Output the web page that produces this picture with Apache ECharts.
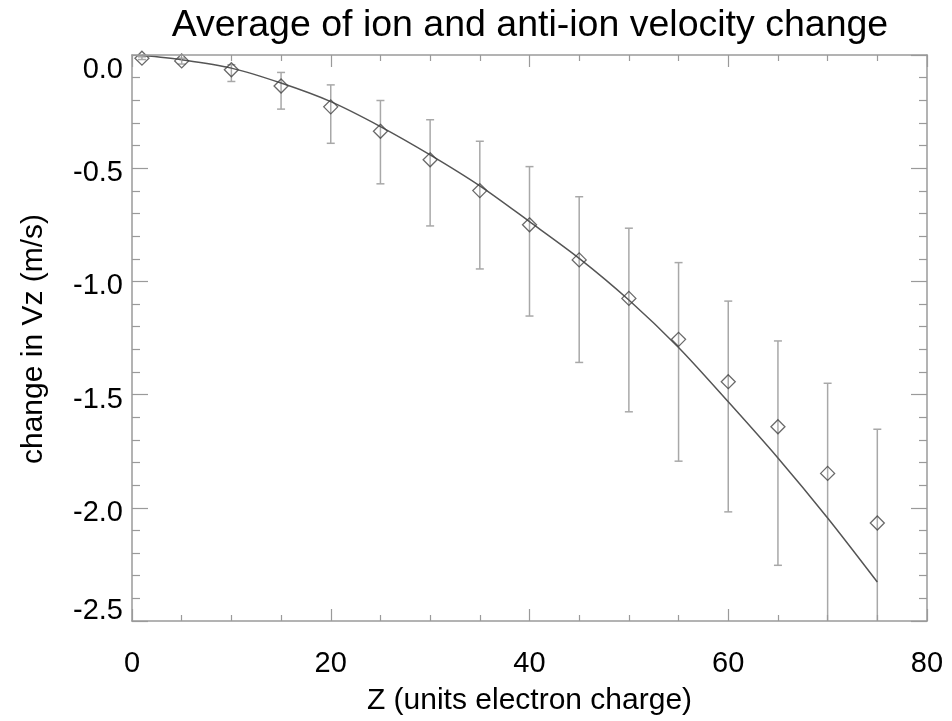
<!DOCTYPE html>
<html>
<head>
<meta charset="utf-8">
<script src="https://cdn.jsdelivr.net/npm/echarts@6/dist/echarts.min.js"></script>
<style>html,body{margin:0;padding:0;background:#fff;}#c{width:952px;height:721px;}</style>
</head>
<body>
<div id="c"></div>
<script>
// Data
var zValues   = [1, 5, 10, 15, 20, 25, 30, 35, 40, 45, 50, 55, 60, 65, 70, 75];
var meanDv    = [-0.014, -0.026, -0.065, -0.137, -0.229, -0.337, -0.463, -0.599, -0.750, -0.905, -1.075, -1.256, -1.443, -1.642, -1.848, -2.067];
var errHigh   = [-0.008, -0.014, -0.043, -0.077, -0.132, -0.201, -0.286, -0.381, -0.493, -0.626, -0.765, -0.917, -1.087, -1.263, -1.450, -1.653];
var errLow    = [-0.020, -0.040, -0.117, -0.239, -0.390, -0.569, -0.755, -0.945, -1.153, -1.358, -1.576, -1.794, -2.018, -2.254, -2.520, -2.720];
var fitZ      = [1, 5, 10, 15, 20, 25, 30, 35, 40, 45, 50, 55, 60, 65, 70, 75];
var fitDv     = [-0.001, -0.021, -0.058, -0.124, -0.206, -0.316, -0.441, -0.578, -0.736, -0.898, -1.082, -1.292, -1.532, -1.780, -2.045, -2.328];
var xTicks    = [0, 20, 40, 60, 80];
var yTicks    = [-2.5, -2.0, -1.5, -1.0, -0.5, 0.0];

var titleText = 'Average of ion and anti-ion velocity change';
var xName = 'Z (units electron charge)';
var yName = 'change in Vz (m/s)';

var FONT = 'Liberation Sans, Arial, Helvetica, sans-serif';
var AXIS_COLOR = '#9a9a9a';
var TEXT_COLOR = '#000';

var chart = echarts.init(document.getElementById('c'), null, {renderer: 'canvas'});

var scatterData = zValues.map(function (z, i) { return [z, meanDv[i]]; });
var errData = zValues.map(function (z, i) { return [z, errLow[i], errHigh[i]]; });
var fitData = fitZ.map(function (z, i) { return [z, fitDv[i]]; });

function axisCommon(show, pos, isX) {
  return {
    type: 'value',
    position: pos,
    min: isX ? xTicks[0] : yTicks[0],
    max: isX ? xTicks[xTicks.length - 1] : yTicks[yTicks.length - 1],
    interval: isX ? 20 : 0.5,
    axisLine: {show: true, onZero: false, lineStyle: {color: AXIS_COLOR, width: 1.5}},
    axisTick: {show: true, inside: true, length: isX ? 12 : 16, lineStyle: {color: AXIS_COLOR, width: 1.2}},
    minorTick: {show: true, splitNumber: isX ? 4 : 5, length: isX ? 6 : 8, lineStyle: {color: AXIS_COLOR, width: 1.2}},
    splitLine: {show: false},
    minorSplitLine: {show: false},
    axisLabel: {show: show},
    z: 10
  };
}

var xBottom = axisCommon(true, 'bottom', true);
xBottom.axisLabel = {show: true, color: TEXT_COLOR, fontSize: 29, fontFamily: FONT, margin: 28,
  formatter: function (v) { return String(v); }};
xBottom.name = xName;
xBottom.nameLocation = 'middle';
xBottom.nameGap = 65;
xBottom.nameTextStyle = {color: TEXT_COLOR, fontSize: 30, fontFamily: FONT};

var xTop = axisCommon(false, 'top', true);

var yLeft = axisCommon(true, 'left', false);
yLeft.axisLabel = {show: true, color: TEXT_COLOR, fontSize: 29, fontFamily: FONT, margin: 9,
  formatter: function (v) {
    var s = v.toFixed(1);
    if (v === yTicks[yTicks.length - 1]) return '{t|' + s + '}';
    if (v === yTicks[0]) return '{b|' + s + '}';
    return '{n|' + s + '}';
  },
  rich: {
    n: {fontSize: 29, fontFamily: FONT, color: TEXT_COLOR, padding: [10, 0, 0, 0]},
    t: {fontSize: 29, fontFamily: FONT, color: TEXT_COLOR, padding: [30, 0, 0, 0]},
    b: {fontSize: 29, fontFamily: FONT, color: TEXT_COLOR, padding: [0, 0, 20, 0]}
  }
};

var yRight = axisCommon(false, 'right', false);

var option = {
  backgroundColor: '#fff',
  animation: false,
  title: {
    text: titleText,
    left: 530,
    textAlign: 'center',
    top: 7,
    padding: 0,
    textStyle: {color: TEXT_COLOR, fontSize: 37.5, fontWeight: 'normal', fontFamily: FONT}
  },
  grid: {left: 132, top: 55, width: 795, height: 566, containLabel: false, outerBoundsMode: 'none'},
  xAxis: [xBottom, xTop],
  yAxis: [yLeft, yRight],
  graphic: [{
    type: 'text',
    x: 34,
    y: 339,
    rotation: Math.PI / 2,
    style: {text: yName, fill: TEXT_COLOR, font: '30px ' + FONT, textAlign: 'center', textVerticalAlign: 'middle'}
  }],
  series: [
    {
      type: 'custom',
      xAxisIndex: 0, yAxisIndex: 0,
      clip: true,
      data: errData,
      renderItem: function (params, api) {
        var x = api.value(0);
        var pLo = api.coord([x, api.value(1)]);
        var pHi = api.coord([x, api.value(2)]);
        var cap = 4;
        var st = {stroke: '#a8a8a8', lineWidth: 1.5};
        return {
          type: 'group',
          children: [
            {type: 'line', shape: {x1: pLo[0], y1: pLo[1], x2: pHi[0], y2: pHi[1]}, style: st},
            {type: 'line', shape: {x1: pHi[0] - cap, y1: pHi[1], x2: pHi[0] + cap, y2: pHi[1]}, style: st},
            {type: 'line', shape: {x1: pLo[0] - cap, y1: pLo[1], x2: pLo[0] + cap, y2: pLo[1]}, style: st}
          ]
        };
      },
      z: 2
    },
    {
      type: 'line',
      xAxisIndex: 0, yAxisIndex: 0,
      data: fitData,
      smooth: 0.3,
      showSymbol: false,
      symbol: 'none',
      lineStyle: {color: '#555', width: 1.5},
      z: 3
    },
    {
      type: 'scatter',
      xAxisIndex: 0, yAxisIndex: 0,
      data: scatterData,
      symbol: 'diamond',
      symbolSize: [14, 14],
      itemStyle: {color: 'rgba(255,255,255,0)', borderColor: '#444', borderWidth: 1.3},
      z: 4
    }
  ]
};
chart.setOption(option);
</script>
</body>
</html>
